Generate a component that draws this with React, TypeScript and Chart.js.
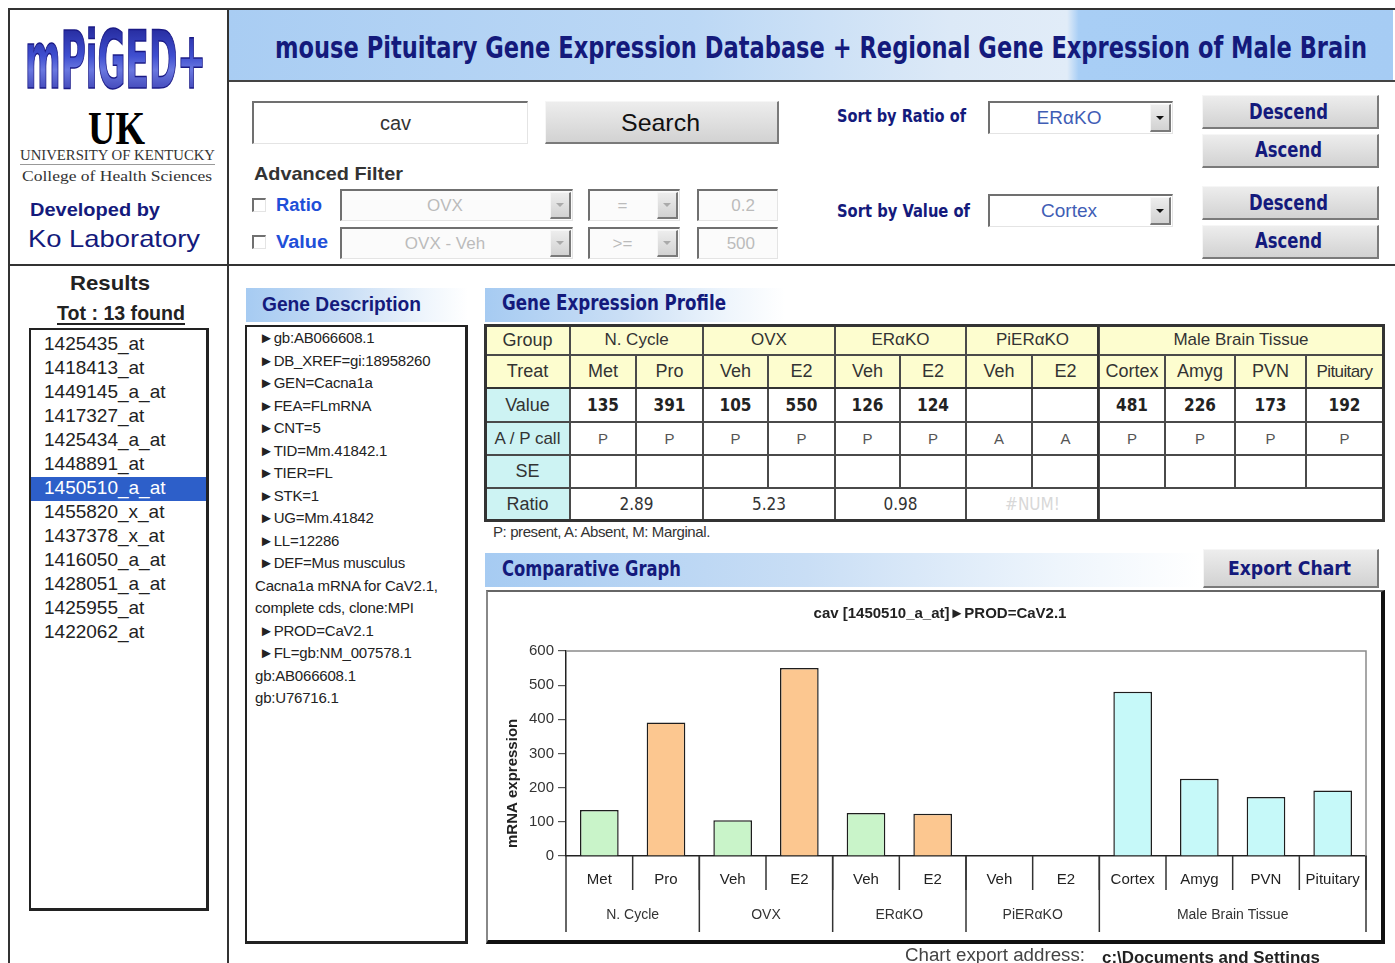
import React, { useEffect, useRef } from "react";
import { Chart, registerables } from "chart.js";
Chart.register(...registerables);

// ---------------- data ----------------
const treatments = ["Met", "Pro", "Veh", "E2", "Veh", "E2", "Veh", "E2", "Cortex", "Amyg", "PVN", "Pituitary"];
const groups = ["N. Cycle", "OVX", "ERαKO", "PiERαKO", "Male Brain Tissue"];
const groupSizes = [2, 2, 2, 2, 4];
const values = [135, 391, 105, 550, 126, 124, null, null, 481, 226, 173, 192];
const barKinds = ["veh", "e2", "veh", "e2", "veh", "e2", "veh", "e2", "brain", "brain", "brain", "brain"];
const valueLabels = ["135", "391", "105", "550", "126", "124", "", "", "481", "226", "173", "192"];
const apCalls = ["P", "P", "P", "P", "P", "P", "A", "A", "P", "P", "P", "P"];
const ratioLabels = ["2.89", "5.23", "0.98", "#NUM!", ""];
const yTicks = [0, 100, 200, 300, 400, 500, 600];
const chartTitle = "cav [1450510_a_at]►PROD=CaV2.1";
const yTitle = "mRNA expression";
const probeIds = ["1425435_at", "1418413_at", "1449145_a_at", "1417327_at", "1425434_a_at", "1448891_at", "1450510_a_at", "1455820_x_at", "1437378_x_at", "1416050_a_at", "1428051_a_at", "1425955_at", "1422062_at"];
const selectedProbe = "1450510_a_at";
const geneDescription = ["►gb:AB066608.1", "►DB_XREF=gi:18958260", "►GEN=Cacna1a", "►FEA=FLmRNA", "►CNT=5", "►TID=Mm.41842.1", "►TIER=FL", "►STK=1", "►UG=Mm.41842", "►LL=12286", "►DEF=Mus musculus", "Cacna1a mRNA for CaV2.1,", "complete cds, clone:MPI", "►PROD=CaV2.1", "►FL=gb:NM_007578.1", "gb:AB066608.1", "gb:U76716.1"];

// ---------------- styles ----------------
const NAVY = "#141a7c";
const SANS = "'Liberation Sans', Arial, Helvetica, sans-serif";
const NARROW = "'Liberation Sans Narrow', 'Arial Narrow', 'DejaVu Sans Condensed', sans-serif";
const SERIF = "'Liberation Serif', 'Times New Roman', serif";
const FILL: Record<string, string> = { veh: "#c9f4c9", e2: "#fcc790", brain: "#c6f9f9" };

const colX = [485, 570, 636, 703, 768, 835, 900, 966, 1032, 1099, 1165, 1235, 1306, 1383];
const rowY = [325, 355, 388, 422, 455, 488, 520];

function Box({ x, y, w, h, style, children }: any) {
  return (
    <div style={{ position: "absolute", left: x, top: y, width: w, height: h, boxSizing: "border-box", ...style }}>
      {children}
    </div>
  );
}

function Fit({ x1, x2, y, size, text, weight = "normal", color = "#222", family = SANS }: any) {
  const w = x2 - x1;
  return (
    <svg style={{ position: "absolute", left: x1, top: y - size, overflow: "visible" }} width={w} height={size * 2}>
      <text x={0} y={size} dominantBaseline="central" textLength={w} lengthAdjust="spacingAndGlyphs"
        fontFamily={family} fontSize={size} fontWeight={weight} fill={color}>{text}</text>
    </svg>
  );
}

const inset = { background: "#fff", borderTop: "2px solid #707070", borderLeft: "2px solid #707070", borderBottom: "1px solid #e4e4e4", borderRight: "1px solid #e4e4e4" };
const outset = { background: "linear-gradient(#ededed,#d2d2d2)", borderTop: "1px solid #f6f6f6", borderLeft: "1px solid #f6f6f6", borderBottom: "2px solid #7a7a7a", borderRight: "2px solid #7a7a7a" };

function Select({ x, y, w, h, text, color, disabled }: any) {
  return (
    <Box x={x} y={y} w={w} h={h} style={{ ...inset, background: disabled ? "#fbfbfb" : "#fff" }}>
      <div style={{ position: "absolute", left: 0, right: 24, top: 0, bottom: 0, display: "flex", alignItems: "center", justifyContent: "center", font: `${disabled ? 17 : 19}px ${SANS}`, color }}>{text}</div>
      <div style={{ position: "absolute", right: 1, top: 1, bottom: 1, width: 21, boxSizing: "border-box", ...outset, display: "flex", alignItems: "center", justifyContent: "center" }}>
        <div style={{ width: 0, height: 0, borderLeft: "4px solid transparent", borderRight: "4px solid transparent", borderTop: `4px solid ${disabled ? "#aaa" : "#111"}` }} />
      </div>
    </Box>
  );
}

function Header({ x, y, w, h }: any) {
  return <Box x={x} y={y} w={w} h={h} style={{ background: "linear-gradient(to right,#a6cbf2,#c9def5 45%,#eef5fc 80%,#ffffff)" }} />;
}

// ---------------- chart ----------------
const groupPlugin = {
  id: "groupAxis",
  beforeDatasetsDraw(chart: any) {
    const { ctx, chartArea: a } = chart;
    ctx.save();
    ctx.strokeStyle = "#8a8a8a";
    ctx.lineWidth = 1.5;
    ctx.beginPath();
    ctx.moveTo(a.left, a.top);
    ctx.lineTo(a.right, a.top);
    ctx.lineTo(a.right, a.bottom);
    ctx.stroke();
    ctx.restore();
  },
  afterDraw(chart: any) {
    const { ctx, chartArea: a } = chart;
    const xs = chart.scales.x;
    const half = (xs.getPixelForValue(1) - xs.getPixelForValue(0)) / 2;
    ctx.save();
    ctx.strokeStyle = "#333";
    ctx.lineWidth = 1.5;
    const sep = (px: number, len: number) => {
      ctx.beginPath();
      ctx.moveTo(px, a.bottom);
      ctx.lineTo(px, a.bottom + len);
      ctx.stroke();
    };
    for (let i = 0; i < treatments.length; i++) sep(xs.getPixelForValue(i) + half, 34);
    sep(xs.getPixelForValue(0) - half, 76);
    ctx.font = `14px ${SANS}`;
    ctx.fillStyle = "#333";
    ctx.textAlign = "center";
    ctx.textBaseline = "middle";
    let idx = 0;
    groups.forEach((g, gi) => {
      const l = xs.getPixelForValue(idx) - half;
      const r = xs.getPixelForValue(idx + groupSizes[gi] - 1) + half;
      ctx.fillText(g, (l + r) / 2, a.bottom + 59);
      sep(r, 76);
      idx += groupSizes[gi];
    });
    // y axis title
    ctx.font = `bold 15px ${SANS}`;
    ctx.fillStyle = "#222";
    ctx.translate(a.left - 53, a.bottom - 8);
    ctx.rotate(-Math.PI / 2);
    ctx.textAlign = "left";
    ctx.fillText(yTitle, 0, 0);
    ctx.restore();
  },
};

function ExpressionChart() {
  const ref = useRef<HTMLCanvasElement>(null);
  useEffect(() => {
    const chart = new Chart(ref.current as HTMLCanvasElement, {
      type: "bar",
      data: {
        labels: treatments,
        datasets: [{
          data: values as any,
          backgroundColor: barKinds.map((k) => FILL[k]),
          borderColor: "#1e1e1e",
          borderWidth: 1.5,
          barPercentage: 0.58,
          categoryPercentage: 1,
        }],
      },
      options: {
        responsive: false,
        animation: false,
        devicePixelRatio: 1,
        layout: { padding: { left: 26, right: 14, top: 0, bottom: 0 } },
        plugins: {
          legend: { display: false },
          tooltip: { enabled: false },
          title: {
            display: true, text: chartTitle, color: "#222",
            font: { family: SANS, size: 15, weight: "bold" },
            padding: { top: 13, bottom: 28 },
          },
        },
        scales: {
          x: {
            grid: { display: false },
            border: { color: "#222", width: 1.5 },
            ticks: { font: { family: SANS, size: 15 }, color: "#222", padding: 7, autoSkip: false, maxRotation: 0 },
            afterFit: (s: any) => { s.height = 82; },
          },
          y: {
            min: 0, max: 600,
            afterBuildTicks: (s: any) => { s.ticks = yTicks.map((v) => ({ value: v })); },
            ticks: { font: { family: SANS, size: 15 }, color: "#333", padding: 4 },
            grid: { drawOnChartArea: false, tickLength: 8, color: "#555", lineWidth: 1.2 },
            border: { color: "#222", width: 1.5 },
            afterFit: (s: any) => { s.width = 52; },
          },
        },
      } as any,
      plugins: [groupPlugin],
    });
    return () => chart.destroy();
  }, []);
  return <canvas ref={ref} width={892} height={346} style={{ position: "absolute", left: 488, top: 592, width: 892, height: 346 }} />;
}

// ---------------- table ----------------
function ProfileTable() {
  const cells: any[] = [];
  const yellow = "#fdfdcf";
  const cyan = "#cdf3f3";
  const cell = (c1: number, c2: number, r: number, content: any, style: any = {}) => {
    cells.push(
      <Box key={`${c1}-${r}`} x={colX[c1]} y={rowY[r]} w={colX[c2] - colX[c1]} h={rowY[r + 1] - rowY[r]}
        style={{ border: "1px solid #4a4a4a", display: "flex", alignItems: "center", justifyContent: "center", font: `18px ${SANS}`, color: "#333", whiteSpace: "nowrap", ...style }}>
        {content}
      </Box>
    );
  };
  cell(0, 1, 0, "Group", { background: yellow });
  cell(0, 1, 1, "Treat", { background: yellow });
  cell(0, 1, 2, "Value", { background: cyan });
  cell(0, 1, 3, "A / P call", { background: cyan, fontSize: 17 });
  cell(0, 1, 4, "SE", { background: cyan });
  cell(0, 1, 5, "Ratio", { background: cyan });
  let c = 1;
  groups.forEach((g, gi) => {
    cell(c, c + groupSizes[gi], 0, g, { background: yellow, fontSize: 17 });
    cell(c, c + groupSizes[gi], 5, ratioLabels[gi], { fontSize: 17, color: ratioLabels[gi].startsWith("#") ? "#d8d8d8" : "#333", fontFamily: NARROW });
    c += groupSizes[gi];
  });
  treatments.forEach((t, i) => {
    cell(i + 1, i + 2, 1, t, { background: yellow, fontSize: t === "Pituitary" ? 17 : 18, letterSpacing: t === "Pituitary" ? -0.6 : 0 });
    cell(i + 1, i + 2, 2, valueLabels[i], { fontFamily: NARROW, fontWeight: "bold", fontSize: 17, color: "#222" });
    cell(i + 1, i + 2, 3, apCalls[i], { fontSize: 15, color: "#555" });
    cell(i + 1, i + 2, 4, "");
  });
  return (
    <>
      {cells}
      <Box x={484} y={324} w={901} h={198} style={{ border: "3px solid #333" }} />
      <Box x={1097} y={325} w={2} h={195} style={{ background: "#333" }} />
      <Box x={485} y={387} w={898} h={2} style={{ background: "#333" }} />
    </>
  );
}

// ---------------- page ----------------
export default function App() {
  return (
    <div style={{ position: "absolute", left: 0, top: 0, width: 1395, height: 963, overflow: "hidden", background: "#fff", fontFamily: SANS }}>
      {/* frame lines */}
      <Box x={8} y={8} w={1387} h={2} style={{ background: "#333" }} />
      <Box x={8} y={8} w={2} h={955} style={{ background: "#333" }} />
      <Box x={227} y={8} w={2} h={955} style={{ background: "#333" }} />
      <Box x={8} y={264} w={1387} h={2} style={{ background: "#333" }} />

      {/* header */}
      <Box x={229} y={10} w={1164} h={71} style={{ background: "linear-gradient(to right,#a9cdf3 0%,#bcd8f5 40%,#dce9f7 62%,#e1ecf8 72%,#a8cef5 73%,#a6ccf4 100%)" }} />
      <Box x={229} y={80} w={1166} h={2} style={{ background: "#444" }} />
      <Fit x1={275} x2={1367} y={47} size={30} weight="bold" family={NARROW} color={NAVY}
        text="mouse Pituitary Gene Expression Database + Regional Gene Expression of Male Brain" />

      {/* logo */}
      <svg style={{ position: "absolute", left: 22, top: 24 }} width={190} height={72}>
        <defs>
          <linearGradient id="lg" x1="0" y1="0" x2="0" y2="1">
            <stop offset="0" stopColor="#1a1a86" />
            <stop offset="0.45" stopColor="#3f4fd0" />
            <stop offset="0.6" stopColor="#6a78e0" />
            <stop offset="1" stopColor="#22229a" />
          </linearGradient>
        </defs>
        <text x={3} y={64} textLength={181} lengthAdjust="spacingAndGlyphs" fontFamily={NARROW} fontWeight="bold" fontSize={80} fill="url(#lg)" stroke="#1a1a86" strokeWidth={1.5}>mPiGED+</text>
      </svg>
      <Fit x1={88} x2={145} y={128} size={46} weight="bold" family={SERIF} color="#000" text="UK" />
      <Fit x1={20} x2={215} y={155} size={15} family={SERIF} color="#333" text="UNIVERSITY OF KENTUCKY" />
      <Box x={20} y={164} w={195} h={1} style={{ background: "#999" }} />
      <Fit x1={22} x2={212} y={176} size={15} family={SERIF} color="#333" text="College of Health Sciences" />
      <Fit x1={30} x2={160} y={209} size={19} weight="bold" color={NAVY} text="Developed by" />
      <Fit x1={28} x2={200} y={238} size={24} color={NAVY} text="Ko Laboratory" />

      {/* results */}
      <Fit x1={70} x2={150} y={282} size={21} weight="bold" color="#222" text="Results" />
      <Fit x1={57} x2={185} y={313} size={20} weight="bold" color="#222" text="Tot : 13 found" />
      <Box x={57} y={323} w={128} h={2} style={{ background: "#222" }} />
      <Box x={29} y={328} w={180} h={583} style={{ border: "2px solid #222", borderRight: "3px solid #222", borderBottom: "3px solid #222", background: "#fff", paddingTop: 3 }}>
        {probeIds.map((p) => (
          <div key={p} style={{ height: 24, lineHeight: "24px", paddingLeft: 13, font: `19px ${SANS}`, color: p === selectedProbe ? "#fff" : "#222", background: p === selectedProbe ? "#2d5fc9" : "transparent" }}>{p}</div>
        ))}
      </Box>

      {/* search */}
      <Box x={252} y={101} w={276} h={43} style={{ ...inset, display: "flex", alignItems: "center", justifyContent: "center", paddingLeft: 10, font: `20px ${SANS}`, color: "#333" }}>cav</Box>
      <Box x={545} y={101} w={234} h={43} style={outset} />
      <Fit x1={621} x2={700} y={122} size={24} color="#111" text="Search" />
      <Fit x1={254} x2={403} y={173} size={19} weight="bold" color="#333" text="Advanced Filter" />

      <Box x={252} y={198} w={14} h={14} style={inset} />
      <Fit x1={276} x2={322} y={205} size={18} weight="bold" color="#1f4fd8" text="Ratio" />
      <Select x={340} y={189} w={233} h={32} text="OVX" color="#bbb" disabled />
      <Select x={588} y={189} w={92} h={32} text="=" color="#bbb" disabled />
      <Box x={697} y={189} w={81} h={32} style={{ ...inset, background: "#fbfbfb", display: "flex", alignItems: "center", justifyContent: "flex-end", paddingRight: 22, font: `17px ${SANS}`, color: "#bbb" }}>0.2</Box>

      <Box x={252} y={235} w={14} h={14} style={inset} />
      <Fit x1={276} x2={328} y={242} size={18} weight="bold" color="#1f4fd8" text="Value" />
      <Select x={340} y={227} w={233} h={32} text="OVX - Veh" color="#bbb" disabled />
      <Select x={588} y={227} w={92} h={32} text=">=" color="#bbb" disabled />
      <Box x={697} y={227} w={81} h={32} style={{ ...inset, background: "#fbfbfb", display: "flex", alignItems: "center", justifyContent: "flex-end", paddingRight: 22, font: `17px ${SANS}`, color: "#bbb" }}>500</Box>

      {/* sort */}
      <Fit x1={837} x2={966} y={115} size={18} weight="bold" family={NARROW} color={NAVY} text="Sort by Ratio of" />
      <Select x={988} y={101} w={185} h={33} text="ERαKO" color="#3f5db5" />
      <Fit x1={837} x2={970} y={210} size={18} weight="bold" family={NARROW} color={NAVY} text="Sort by Value of" />
      <Select x={988} y={194} w={185} h={33} text="Cortex" color="#3f5db5" />
      {[[95, 112, "Descend"], [134, 150, "Ascend"], [186, 203, "Descend"], [225, 241, "Ascend"]].map(([y, ty, t]: any) => (
        <React.Fragment key={y}>
          <Box x={1202} y={y} w={177} h={34} style={outset} />
          {t === "Descend"
            ? <Fit x1={1249} x2={1328} y={ty} size={21} weight="bold" family={NARROW} color={NAVY} text={t} />
            : <Fit x1={1255} x2={1322} y={ty} size={21} weight="bold" family={NARROW} color={NAVY} text={t} />}
        </React.Fragment>
      ))}

      {/* gene description */}
      <Header x={246} y={288} w={222} h={34} />
      <Fit x1={262} x2={421} y={304} size={20} weight="bold" color={NAVY} text="Gene Description" />
      <Box x={245} y={325} w={223} h={619} style={{ border: "2px solid #222", borderRight: "3px solid #222", borderBottom: "3px solid #222", paddingTop: 2, paddingLeft: 8 }}>
        {geneDescription.map((l, i) => (
          <div key={i} style={{ height: 22.5, lineHeight: "22.5px", font: `15px ${SANS}`, color: "#222", whiteSpace: "nowrap", letterSpacing: -0.2, paddingLeft: l.startsWith("►") ? 4 : 0 }}>{l}</div>
        ))}
      </Box>

      {/* expression profile */}
      <Header x={485} y={288} w={300} h={34} />
      <Fit x1={502} x2={726} y={303} size={21} weight="bold" family={NARROW} color={NAVY} text="Gene Expression Profile" />
      <ProfileTable />
      <div style={{ position: "absolute", left: 493, top: 523, font: `15px ${SANS}`, color: "#333", letterSpacing: -0.4 }}>P: present, A: Absent, M: Marginal.</div>

      {/* comparative graph */}
      <Header x={485} y={553} w={716} h={34} />
      <Fit x1={502} x2={681} y={569} size={21} weight="bold" family={NARROW} color={NAVY} text="Comparative Graph" />
      <Box x={1203} y={549} w={176} h={39} style={outset} />
      <Fit x1={1228} x2={1351} y={568} size={20} weight="bold" family={NARROW} color={NAVY} text="Export Chart" />
      <Box x={486} y={590} w={899} h={354} style={{ borderTop: "2px solid #666", borderLeft: "2px solid #888", borderRight: "4px solid #111", borderBottom: "4px solid #111", background: "#fff" }} />
      <ExpressionChart />

      <Fit x1={905} x2={1085} y={955} size={18} color="#444" text="Chart export address:" />
      <Fit x1={1102} x2={1320} y={957} size={17} weight="bold" color="#222" text="c:\Documents and Settings" />
    </div>
  );
}
